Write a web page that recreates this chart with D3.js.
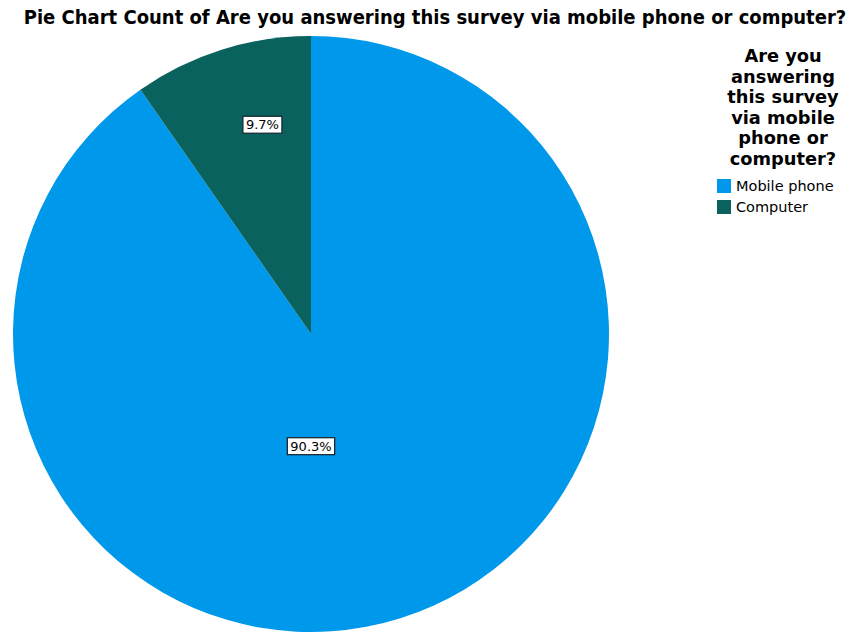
<!DOCTYPE html>
<html>
<head>
<meta charset="utf-8">
<script src="https://cdn.jsdelivr.net/npm/d3@7"></script>
<style>
  body { margin: 0; background: #fff; }
  svg { display: block; }
</style>
</head>
<body>
<svg></svg>
<script>
// data
var categories = ["Mobile phone", "Computer"];
var percents = [90.3, 9.7];
var colors = ["#0098ea", "#0a625e"];
var legendTitle = ["Are you", "answering", "this survey", "via mobile", "phone or", "computer?"];
var chartTitle = "Pie Chart Count of Are you answering this survey via mobile phone or computer?";

var width = 852;
var height = 632;
var cx = 311, cy = 334, radius = 298;

var svg = d3.select("svg")
    .attr("width", width)
    .attr("height", height);

// title
svg.append("text")
    .attr("x", 435)
    .attr("y", 24)
    .attr("text-anchor", "middle")
    .style("font-family", "'Liberation Sans Narrow', 'DejaVu Sans Condensed', sans-serif")
    .style("font-weight", "bold")
    .style("font-size", "20px")
    .text(chartTitle);

var table = categories.map(function(c, i) {
    return { name: c, value: percents[i], color: colors[i] };
});

var pie = d3.pie()
    .sort(null)
    .value(function(d) { return d.value; });

var arc = d3.arc()
    .innerRadius(0)
    .outerRadius(radius);

var g = svg.append("g")
    .attr("transform", "translate(" + cx + "," + cy + ")");

var slices = pie(table);

g.selectAll("path")
    .data(slices)
    .enter().append("path")
    .attr("d", arc)
    .attr("fill", function(d) { return d.data.color; });

// labels - SPSS places them roughly, not on the mid angle
var labelAt = [
    { angle: Math.PI, r: 112 },
    { angle: -0.228, r: 215 }
];

var labels = g.selectAll(".lbl")
    .data(slices)
    .enter().append("g")
    .attr("class", "lbl")
    .attr("transform", function(d, i) {
        var a = labelAt[i].angle, r = labelAt[i].r;
        return "translate(" + (Math.sin(a) * r) + "," + (-Math.cos(a) * r) + ")";
    });

labels.append("text")
    .attr("text-anchor", "middle")
    .attr("dy", "0.36em")
    .style("font-family", "'DejaVu Sans', sans-serif")
    .style("font-size", "13px")
    .text(function(d) { return d.data.value.toFixed(1) + "%"; })
    .each(function() {
        var b = this.getBBox();
        d3.select(this.parentNode).insert("rect", "text")
            .attr("x", b.x - 3)
            .attr("y", b.y - 1)
            .attr("width", b.width + 6)
            .attr("height", b.height + 2)
            .attr("fill", "#fff")
            .attr("stroke", "#1a2a33")
            .attr("stroke-width", 1.3);
    });

// legend
var legend = svg.append("g");

legend.selectAll(".lt")
    .data(legendTitle)
    .enter().append("text")
    .attr("class", "lt")
    .attr("x", 783)
    .attr("y", function(d, i) { return 62 + i * 20.6; })
    .attr("text-anchor", "middle")
    .style("font-family", "'DejaVu Sans', sans-serif")
    .style("font-weight", "bold")
    .style("font-size", "17.8px")
    .text(function(d) { return d; });

var items = legend.selectAll(".li")
    .data(table)
    .enter().append("g")
    .attr("class", "li")
    .attr("transform", function(d, i) { return "translate(717," + (179 + i * 21) + ")"; });

items.append("rect")
    .attr("width", 14)
    .attr("height", 14)
    .attr("fill", function(d) { return d.color; });

items.append("text")
    .attr("x", 19)
    .attr("y", 12)
    .style("font-family", "'DejaVu Sans', sans-serif")
    .style("font-size", "14.5px")
    .text(function(d) { return d.name; });
</script>
</body>
</html>
